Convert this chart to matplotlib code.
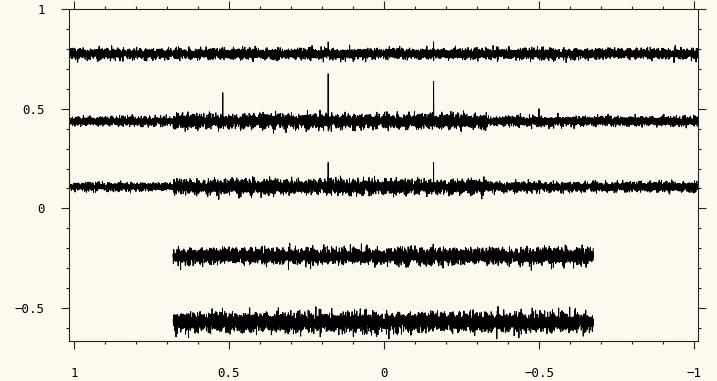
import matplotlib.pyplot as plt
from matplotlib.ticker import MultipleLocator
import numpy as np

# baseline level of each stacked spectrum (top to bottom)
baselines = [0.775, 0.437, 0.108, -0.240, -0.572]

# chemical-shift span covered by each spectrum
spans = [(1.016, -1.013), (1.016, -1.013), (1.016, -1.013), (0.68, -0.675), (0.68, -0.675)]

# noise level per region: (from, to, sigma)
noise_levels = [
    [(1.016, -1.013, 0.0125)],
    [(1.016, 0.68, 0.0105), (0.68, -0.33, 0.0170), (-0.33, -1.013, 0.0115)],
    [(1.016, 0.68, 0.0095), (0.68, -0.33, 0.0170), (-0.33, -1.013, 0.0115)],
    [(0.68, -0.675, 0.0190)],
    [(0.68, -0.675, 0.0235)],
]

# sharp peaks: (position, top of peak)
peaks = [
    [(0.18, 0.835), (-0.16, 0.835)],
    [(0.52, 0.58), (0.18, 0.675), (-0.16, 0.637), (-0.50, 0.50)],
    [(0.18, 0.23), (-0.16, 0.23), (-0.50, 0.14)],
    [],
    [],
]

# hand-typed noise texture used for the baseline noise
noise_a = [0.3, -1.2, 0.8, -0.4, 1.6, -0.9, 0.1, -2.1, 0.7, 1.1, -0.3, 0.5, -1.5, 2.2, -0.6,
           0.0, 0.9, -1.0, 0.4, -0.2, 1.3, -1.8, 0.6, -0.7, 0.2, 1.9, -0.5, -1.3, 0.8, -0.1,
           0.5, -2.4, 1.0, 0.3, -0.8, 1.4, -0.4, 0.7, -1.1, 0.2, -0.6, 2.6, -0.9, 0.1, -0.3,
           1.2, -1.6, 0.4, 0.9, -0.2, -1.0, 0.6, 1.7, -0.7, 0.0, -1.4, 0.8, -0.5, 2.0, -1.2,
           0.3, -0.1, 1.1, -0.8, 0.5, -1.9, 0.2, 0.7, -0.4, 1.5, -2.7, 0.6, -0.3, 0.9, -1.1,
           0.1, 1.8, -0.6, 0.4, -0.9, 0.0, 1.3, -1.5, 0.7, -0.2, 0.5, -1.7, 2.3, -0.4, 0.1,
           -0.8, 1.0, -0.3, 0.6, -1.3, 0.2, 1.6, -0.5, -1.0, 0.8, -0.1]
noise_b = [-0.5, 1.1, -1.7, 0.2, 0.9, -0.3, 2.1, -1.0, 0.4, -0.8, 0.0, 1.4, -2.2, 0.6, -0.1,
           0.7, -1.3, 1.8, -0.4, 0.3, -0.9, 1.0, -0.2, -1.6, 0.5, 2.4, -0.7, 0.1, -1.1, 0.8,
           -0.3, 1.5, -2.0, 0.2, 0.6, -0.5, 1.2, -1.4, 0.0, 0.9, -0.6, -2.5, 1.3, 0.4, -0.2,
           0.7, -1.0, 1.9, -0.8, 0.1, 0.5, -1.2, 0.3, 2.0, -0.4, -0.9, 1.1, -0.1, 0.6, -1.8,
           0.8, -0.3, 1.6, -0.7, 0.2, -1.5, 0.4, 1.0, -0.6, 0.0, -1.1, 2.2, -0.2, 0.5, -0.9,
           1.3, -1.9, 0.7, -0.4, 0.1, 1.7, -1.3, 0.3, -0.5, 0.9, -2.3, 0.6, -0.1, 1.2]

STEP = 0.0004
BG = "#fdf9ee"

plt.rcParams["font.family"] = ["DejaVu Sans Mono"]

fig = plt.figure(figsize=(7.17, 3.81), dpi=100, facecolor=BG)
ax = fig.add_axes([69 / 717, 1 - 341 / 381, 629 / 717, 332 / 381], facecolor=BG)

na = np.array(noise_a)
nb = np.array(noise_b)

for k in range(len(baselines)):
    x0, x1 = spans[k]
    x = np.arange(x0, x1 - STEP / 2, -STEP)
    idx = np.arange(len(x)) + 37 * k
    tex = (na[idx % len(na)] + nb[(3 * idx + 11 * k) % len(nb)]) / 1.4
    sigma = np.zeros_like(x)
    for a, b, s in noise_levels[k]:
        sigma[(x <= a) & (x >= b)] = s
    y = baselines[k] + sigma * tex
    for pos, top in peaks[k]:
        j = int(np.argmin(np.abs(x - pos)))
        y[j] = top
    ax.plot(x, y, color="black", lw=0.7)

ax.set_xlim(1.016, -1.013)
ax.set_ylim(-0.665, 1.0)

ax.xaxis.set_major_locator(MultipleLocator(0.5))
ax.xaxis.set_minor_locator(MultipleLocator(0.1))
ax.yaxis.set_major_locator(MultipleLocator(0.5))
ax.yaxis.set_minor_locator(MultipleLocator(0.1))
fmt = plt.FuncFormatter(lambda v, p: f"{v:g}".replace("-", "\u2212"))
ax.xaxis.set_major_formatter(fmt)
ax.yaxis.set_major_formatter(fmt)

ax.tick_params(which="both", direction="out", top=True, right=True,
               labeltop=False, labelright=False, color="#222222", width=0.8)
ax.tick_params(which="major", length=5.5, labelsize=9, pad=12)
ax.tick_params(which="minor", length=2.5)
ax.tick_params(axis="x", which="major", pad=13)

for sp in ax.spines.values():
    sp.set_linewidth(0.8)
    sp.set_color("#222222")

fig.savefig("out.png", dpi=100, facecolor=BG)
